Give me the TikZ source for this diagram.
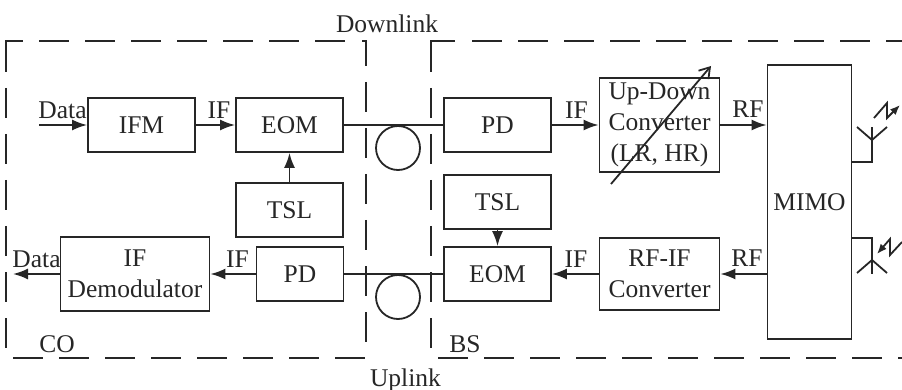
\documentclass[tikz,border=0pt]{standalone}
\usepackage{fontspec}
\setmainfont{Liberation Serif}
\usetikzlibrary{arrows.meta}
\definecolor{ink}{HTML}{262626}

\begin{document}
\begin{tikzpicture}[x = 1pt, y = -1pt, align=center, node distance=148pt, color = ink, line width = 1.8pt, font = \fontsize{25.5}{31}\selectfont,
	>={Latex[length=15pt, width=11pt]},
	block/.style = {draw, minimum width = 107pt, minimum height = 54pt, inner sep = 0pt},
	wide/.style = {block, minimum width = 120pt, minimum height = 72pt},
	fiber/.style = {draw, circle, minimum size = 44pt, inner sep = 0pt},
	tag/.style = {anchor = base, inner sep = 0pt},
	frame/.style = {dash pattern = on 30pt off 16pt}]
	\useasboundingbox (0,0) rectangle (902,390);

	\node[block] (ifm) at (141.5,125) {IFM};
	\node[block] (eomco) [right of = ifm] {EOM};
	\node[block] (tslco) [below of = eomco, node distance = 85pt] {TSL};
	\node[block] (pdbs) [right of = eomco, node distance = 208pt] {PD};
	\node[block] (tslbs) [below of = pdbs, node distance = 77pt] {TSL};
	\node[block] (eombs) [below of = pdbs, node distance = 149pt] {EOM};
	\node[block, minimum width = 87pt] (pdco) [left of = eombs, node distance = 197.5pt] {PD};
	\node[block, minimum width = 149pt, minimum height = 74pt] (demod) [left of = pdco, node distance = 165pt] {IF\\Demodulator};
	\node[wide, minimum height = 94pt] (updown) [right of = pdbs, node distance = 162pt] {Up-Down\\Converter\\(LR, HR)};
	\node[wide] (rfif) [right of = eombs, node distance = 162pt] {RF-IF\\Converter};
	\node[block, minimum width = 84pt, minimum height = 274pt] (mimo) [right of = updown, node distance = 150pt, yshift = -77pt] {MIMO};
	\node[fiber] (fibdown) at (398,148) {};
	\node[fiber] (fibup) at (398,297) {};

	\coordinate (datain) at (39,125);
	\coordinate (dataout) at (13,274);
	\coordinate (tunein) at (611,184);
	\coordinate (tuneout) at (711,66);
	\coordinate (antup) at (872,162);
	\coordinate (antupmid) at (872,140);
	\coordinate (antuptop) at (872,127);
	\coordinate (antlow) at (872,238);
	\coordinate (antlowmid) at (872,260);
	\coordinate (antlowend) at (872,274);

	\draw[->] (datain) -- (ifm);
	\draw[->] (ifm) -- (eomco);
	\draw[->] (tslco) -- (eomco);
	\draw[] (eomco) -- (pdbs);
	\draw[->] (pdbs) -- (updown.west |- pdbs);
	\draw[->] (updown) -- (updown -| mimo.west);
	\draw[->] (tslbs) -- (eombs);
	\draw[] (eombs) -- (pdco);
	\draw[->] (pdco) -- (demod);
	\draw[->] (demod) -- (dataout);
	\draw[->] (eombs -| rfif.west) -- (eombs);
	\draw[->] (rfif -| mimo.west) -- (rfif);
	\draw[-{Straight Barb[length=10pt, width=13pt]}] (tunein) -- (tuneout);

	% antennas
	\draw[] (antup -| mimo.east) -- (antup) -- (antuptop);
	\draw[] (857,127) -- (antupmid) -- (887,127);
	\draw[-{Latex[length=10pt, width=8pt]}] (874,118) -- (887,103) -- (887,118) -- (900,105);
	\draw[] (antlow -| mimo.east) -- (antlow) -- (antlowend);
	\draw[] (857,273) -- (antlowmid) -- (887,273);
	\draw[-{Latex[length=10pt, width=8pt]}] (902,242) -- (890,255) -- (890,239) -- (877,254);

	% dashed frames
	\draw[] (6,72) -- (6,41) -- (23,41);
	\draw[frame] (39,41) -- (345,41);
	\draw[] (362,41) -- (366,41) -- (366,66);
	\draw[frame] (366,82) -- (366,343);
	\draw[frame] (6,88) -- (6,349);
	\draw[frame] (13,358) -- (366,358);
	\draw[] (431,72) -- (431,41) -- (455,41);
	\draw[frame] (472,41) -- (902,41);
	\draw[frame] (431,88) -- (431,350);
	\draw[frame] (438,358) -- (902,358);

	\node[tag] (datal) at (62.5,119) {Data};
	\node[tag] (ifl) at (219,119) {IF};
	\node[tag] (ifr) at (576.5,119) {IF};
	\node[tag] (rfu) at (748,118) {RF};
	\node[tag] (datao) at (36.5,267) {Data};
	\node[tag] (ifd) at (237.5,267) {IF};
	\node[tag] (ifb) at (576,267) {IF};
	\node[tag] (rfd) at (747,266) {RF};
	\node[tag] (co) at (57,352) {CO};
	\node[tag] (bs) at (465,352) {BS};
	\node[tag] (down) at (387,33) {Downlink};
	\node[tag] (up) at (405.5,386) {Uplink};
\end{tikzpicture}
\end{document}
